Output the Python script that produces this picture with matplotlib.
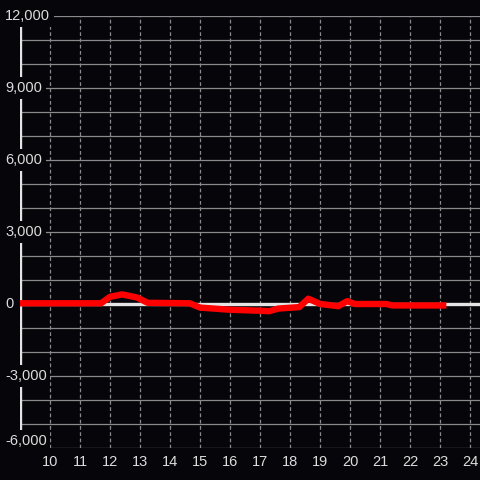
import matplotlib.pyplot as plt
import matplotlib.transforms as mtransforms

# hour of day vs value
hours = [9.0, 11.5, 11.7, 12.0, 12.4, 12.9, 13.25, 14.65, 15.0, 16.0, 17.0,
         17.3, 17.6, 18.3, 18.6, 19.0, 19.6, 19.9, 20.15, 21.2, 21.4, 23.2]
values = [30, 30, 30, 300, 400, 270, 50, 30, -150, -240, -280,
          -300, -190, -130, 220, 0, -90, 120, 0, 0, -60, -60]

x_ticks = list(range(10, 25))
y_major = [-6000, -3000, 0, 3000, 6000, 9000, 12000]
y_grid = [v for v in range(-6000, 12001, 1000) if v != 0]

bg = "#060509"
text_color = "#dcdcdc"
grid_color = "#8a8a8a"

plt.rcParams["font.family"] = ["Liberation Sans", "DejaVu Sans"]

fig = plt.figure(figsize=(4.8, 4.8), dpi=100, facecolor=bg)
ax = fig.add_axes([20 / 480, 32 / 480, 460 / 480, 432 / 480])
ax.set_facecolor(bg)
ax.set_xlim(9, 24.32)
ax.set_ylim(-6000, 12000)

for s in ax.spines.values():
    s.set_visible(False)

# grid
for v in y_grid:
    ax.axhline(v, color=grid_color, lw=0.9, zorder=1)
for h in x_ticks:
    ax.axvline(h, color=grid_color, lw=0.9, linestyle=(0, (3, 2)), zorder=1)

# zero line and left axis
ax.axhline(0, color="#e4e4e4", lw=2.4, zorder=2)
ax.axvline(9, color="#e4e4e4", lw=2.4, zorder=2)

# series
ax.plot(hours, values, color="#ff0000", lw=4.6, solid_joinstyle="round",
        solid_capstyle="butt", zorder=4)

# x ticks
ax.set_xticks(x_ticks)
ax.set_xticklabels([str(h) for h in x_ticks])
ax.set_yticks([])
ax.tick_params(axis="x", length=0, pad=5, labelsize=10.5, labelcolor=text_color)

# y labels with background over the axis line
trans = mtransforms.blended_transform_factory(fig.transFigure, ax.transData)
for v in y_major:
    va = "bottom" if v == -6000 else "center"
    ax.text(5 / 480, v, f"{v:,}", transform=trans,
            ha="left", va=va, fontsize=10.5, color=text_color, clip_on=False,
            zorder=10,
            bbox=dict(boxstyle="square,pad=0.25", facecolor=bg, edgecolor="none"))

fig.savefig("out.png", dpi=100, facecolor=bg)
